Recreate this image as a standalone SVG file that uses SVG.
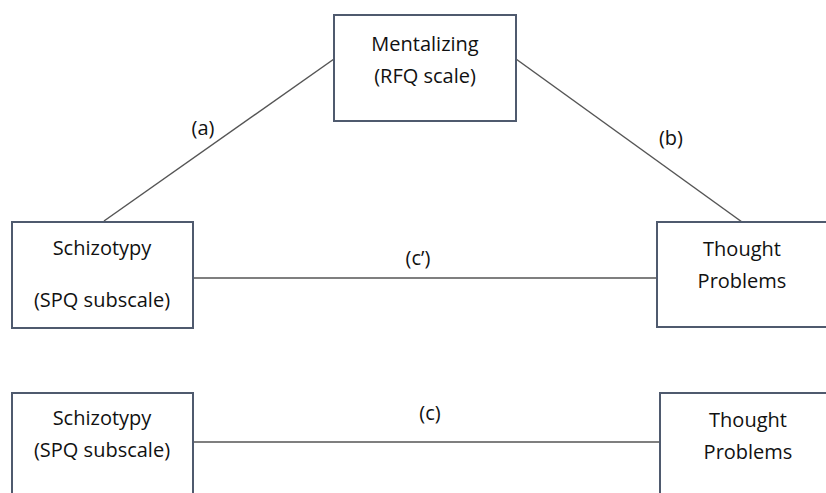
<svg xmlns="http://www.w3.org/2000/svg" width="826" height="493" viewBox="0 0 826 493">
<style>
.box{fill:#fff;stroke:#4f5a6e;stroke-width:2}
.ln{stroke:#555;stroke-width:1.5;fill:none}
text{font-family:"Open Sans","Liberation Sans",sans-serif;font-size:20px;fill:#111;text-anchor:middle}
</style>
<rect width="826" height="493" fill="#fff"/>
<g id="connectors">
<line class="ln" x1="104" y1="221" x2="334" y2="59"/>
<line class="ln" x1="516" y1="59" x2="742" y2="222"/>
<line class="ln" x1="193" y1="278" x2="657" y2="278"/>
<line class="ln" x1="193" y1="442" x2="660" y2="442"/>
<text x="203" y="135">(a)</text>
<text x="671" y="145">(b)</text>
<text x="418" y="265">(c’)</text>
<text x="430" y="420">(c)</text>
</g>
<g id="mentalizing">
<rect class="box" x="334" y="15" width="182" height="106"/>
<text x="425" y="51">Mentalizing</text>
<text x="425" y="83">(RFQ scale)</text>
</g>
<g id="schizotypy1">
<rect class="box" x="12" y="222" width="181" height="106"/>
<text x="102" y="255">Schizotypy</text>
<text x="102" y="307">(SPQ subscale)</text>
</g>
<g id="thought1">
<rect class="box" x="657" y="222" width="180" height="105"/>
<text x="742" y="256">Thought</text>
<text x="742" y="288">Problems</text>
</g>
<g id="schizotypy2">
<rect class="box" x="12" y="393" width="181" height="120"/>
<text x="102" y="425">Schizotypy</text>
<text x="102" y="457">(SPQ subscale)</text>
</g>
<g id="thought2">
<rect class="box" x="660" y="393" width="180" height="120"/>
<text x="748" y="427">Thought</text>
<text x="748" y="459">Problems</text>
</g>
</svg>
